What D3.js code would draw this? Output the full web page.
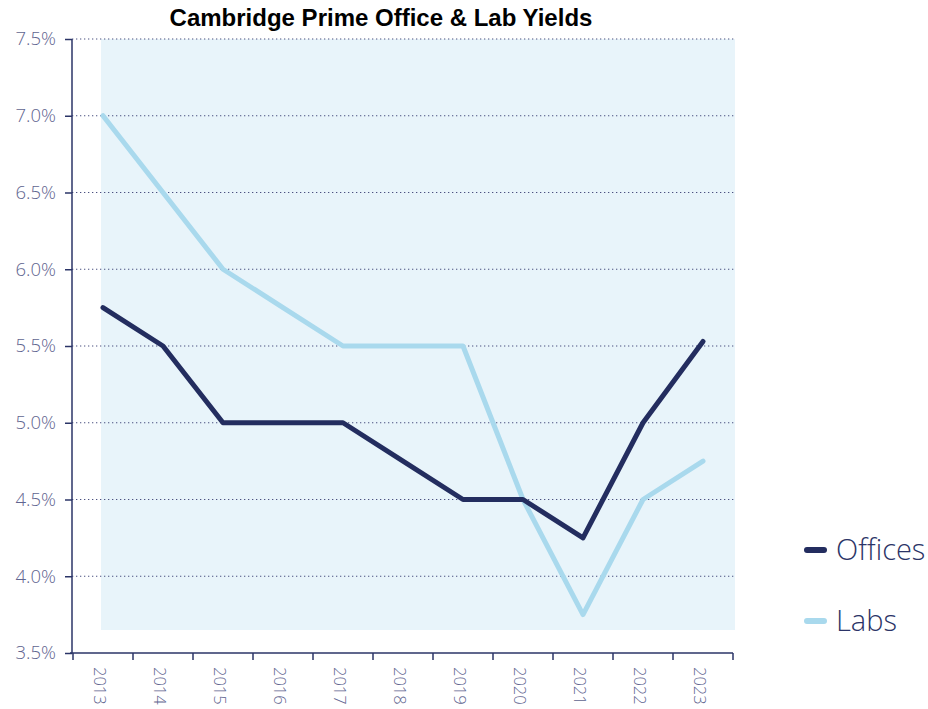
<!DOCTYPE html>
<meta charset="utf-8">
<style>
body { margin: 0; background: #fff; }
.title { font-family: "Liberation Sans", Arial, sans-serif; font-weight: bold; font-size: 24px; }
.tick text { font-family: "Open Sans", sans-serif; font-weight: 300; fill: #5f6590; }
.legend text { font-family: "Open Sans", sans-serif; font-weight: 300; fill: #2b3467; font-size: 29px; }
</style>
<body>
<script src="https://cdn.jsdelivr.net/npm/d3@7"></script>
<script>
// chart data
var years = ["2013","2014","2015","2016","2017","2018","2019","2020","2021","2022","2023"];
var offices = [5.75, 5.5, 5.0, 5.0, 5.0, 4.75, 4.5, 4.5, 4.25, 5.0, 5.53];
var labs = [7.0, 6.5, 6.0, 5.75, 5.5, 5.5, 5.5, 4.5, 3.75, 4.5, 4.75];
var yTicks = [3.5, 4.0, 4.5, 5.0, 5.5, 6.0, 6.5, 7.0, 7.5];
var seriesNames = ["Offices", "Labs"];
var seriesColors = ["#232d5f", "#a9d9ed"];

var W = 928, H = 709;
var margin = {left: 72, top: 39, right: 195, bottom: 56};

var svg = d3.select("body").append("svg")
    .attr("width", W)
    .attr("height", H);

// scales
var x = d3.scaleBand().domain(years).range([margin.left + 1, 733]);
var y = d3.scaleLinear().domain([3.5, 7.5]).range([H - margin.bottom, margin.top]);

// shaded plot background
svg.append("rect")
    .attr("x", x("2013") + x.bandwidth() / 2 - 2)
    .attr("y", y(7.5))
    .attr("width", 735 - (x("2013") + x.bandwidth() / 2 - 2))
    .attr("height", y(3.65) - y(7.5))
    .attr("fill", "#e8f4fa");

// gridlines
svg.append("g")
  .selectAll("line")
  .data(yTicks.slice(1))
  .enter().append("line")
    .attr("x1", margin.left)
    .attr("x2", 735)
    .attr("y1", function(d) { return y(d); })
    .attr("y2", function(d) { return y(d); })
    .attr("stroke", "#4a5080")
    .attr("stroke-width", 1.2)
    .attr("stroke-dasharray", "1.3,2.7");

// y axis
var yAxis = svg.append("g")
    .attr("transform", "translate(" + margin.left + ",0)")
    .call(d3.axisLeft(y).tickValues(yTicks).tickSize(7).tickPadding(9)
      .tickFormat(function(d) { return d3.format(".1f")(d) + "%"; }));
yAxis.selectAll("text").attr("font-size", 18.5);
yAxis.selectAll("line, path").attr("stroke", "#2b3467").attr("stroke-width", 1.5);
yAxis.select(".domain").attr("d", "M0," + y(7.5) + "V" + y(3.5));

// x axis
var xAxis = svg.append("g")
    .attr("transform", "translate(0," + y(3.5) + ")")
    .call(d3.axisBottom(x).tickSize(0).tickPadding(0));
xAxis.selectAll("line, path").attr("stroke", "#2b3467").attr("stroke-width", 1.5);
xAxis.select(".domain").attr("d", "M" + (margin.left - 2) + ",0H733");
xAxis.selectAll(".tick text")
    .attr("font-size", 16.5)
    .attr("text-anchor", "start")
    .attr("dy", "0.35em")
    .attr("transform", "translate(-3,14) rotate(90)")
    .attr("x", 0).attr("y", 0);

// band boundary ticks
svg.append("g")
  .selectAll("line")
  .data(years.concat(["end"]))
  .enter().append("line")
    .attr("x1", function(d, i) { return i < years.length ? x(d) : x(years[years.length - 1]) + x.bandwidth(); })
    .attr("x2", function(d, i) { return i < years.length ? x(d) : x(years[years.length - 1]) + x.bandwidth(); })
    .attr("y1", y(3.5))
    .attr("y2", y(3.5) + 7)
    .attr("stroke", "#2b3467")
    .attr("stroke-width", 1.5);

// lines
var line = d3.line()
    .x(function(d, i) { return x(years[i]) + x.bandwidth() / 2; })
    .y(function(d) { return y(d); });

[labs, offices].forEach(function(s, k) {
  svg.append("path")
      .datum(s)
      .attr("fill", "none")
      .attr("stroke", k === 0 ? seriesColors[1] : seriesColors[0])
      .attr("stroke-width", 5)
      .attr("stroke-linecap", "round")
      .attr("stroke-linejoin", "round")
      .attr("d", line);
});

// title
svg.append("text")
    .attr("class", "title")
    .attr("x", 381)
    .attr("y", 26)
    .attr("text-anchor", "middle")
    .text("Cambridge Prime Office & Lab Yields");

// legend
var legend = svg.append("g").attr("class", "legend")
  .selectAll("g")
  .data(seriesNames)
  .enter().append("g")
    .attr("transform", function(d, i) { return "translate(807," + (550 + i * 71) + ")"; });
legend.append("line")
    .attr("x1", 0).attr("x2", 17)
    .attr("stroke", function(d, i) { return seriesColors[i]; })
    .attr("stroke-width", 6)
    .attr("stroke-linecap", "round");
legend.append("text")
    .attr("x", 29)
    .attr("dy", "0.35em")
    .text(function(d) { return d; });
</script>
</body>
